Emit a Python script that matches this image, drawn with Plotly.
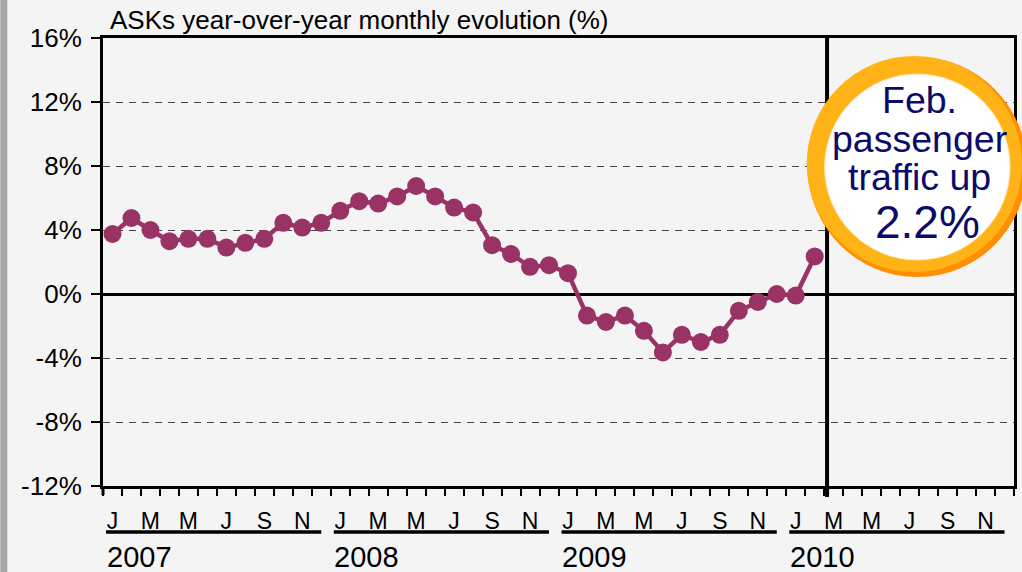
import plotly.graph_objects as go

# ---- data ----
month_letters = ["J", "F", "M", "A", "M", "J", "J", "A", "S", "O", "N", "D"]
years = ["2007", "2008", "2009", "2010"]
ask_yoy = [3.75, 4.75, 4.0, 3.3, 3.45, 3.45, 2.9, 3.2, 3.45, 4.45, 4.15, 4.45,
           5.2, 5.8, 5.65, 6.1, 6.75, 6.1, 5.4, 5.1, 3.05, 2.5, 1.7, 1.8,
           1.3, -1.35, -1.75, -1.35, -2.3, -3.65, -2.55, -3.0, -2.55, -1.05, -0.5, 0.0,
           -0.1, 2.35]
y_ticks = [16, 12, 8, 4, 0, -4, -8, -12]
title_text = "ASKs year-over-year monthly evolution (%)"
callout_lines = ["Feb.", "passenger", "traffic up"]
callout_value = "2.2%"

n_months = 12 * len(years)
x_idx = list(range(len(ask_yoy)))
tick_pos = list(range(0, n_months, 2))
tick_txt = [month_letters[i % 12] for i in tick_pos]

FONT = "Liberation Sans, Arial, sans-serif"
BG = "#f4f4f4"
L, R, T, B = 103, 5, 38, 86
W, H = 1022, 572
PW, PH = W - L - R, H - T - B


def px_x(p):
    return (p - L) / PW


def px_y(p):
    return (H - B - p) / PH


fig = go.Figure()
fig.add_trace(go.Scatter(
    x=x_idx, y=ask_yoy, mode="lines+markers",
    line=dict(color="#993366", width=4.5),
    marker=dict(color="#993366", size=18),
    showlegend=False, cliponaxis=False,
))

shapes = []
annotations = []

# left slide border
shapes.append(dict(type="rect", xref="paper", yref="paper",
                   x0=px_x(0), x1=px_x(7), y0=px_y(H), y1=px_y(0),
                   fillcolor="#a8a8a8", line_width=0, layer="below"))

# y-axis line extension below the plot
shapes.append(dict(type="line", xref="paper", yref="paper",
                   x0=0, x1=0, y0=px_y(495), y1=0,
                   line=dict(color="black", width=3)))

# vertical separator between Feb and Mar 2010
shapes.append(dict(type="line", xref="x", yref="paper",
                   x0=len(ask_yoy) - 0.35, x1=len(ask_yoy) - 0.35,
                   y0=px_y(497), y1=1, line=dict(color="black", width=4)))

# year labels and underlines
for i, yr in enumerate(years):
    start = 12 * i
    shapes.append(dict(type="line", xref="x", yref="paper",
                       x0=start - 0.34, x1=start + 11.0,
                       y0=px_y(532), y1=px_y(532),
                       line=dict(color="black", width=3.5)))
    annotations.append(dict(text=yr, xref="x", yref="paper",
                            x=start - 0.42, y=px_y(557), xanchor="left", yanchor="middle",
                            showarrow=False, font=dict(family=FONT, size=29, color="black")))

# title
annotations.append(dict(text=title_text, xref="paper", yref="paper",
                        x=px_x(108), y=px_y(20), xanchor="left", yanchor="middle",
                        showarrow=False, font=dict(family=FONT, size=26, color="black")))

# callout circle
cx, cy, r_out, r_in = 920, 167, 110, 93
shapes.append(dict(type="circle", xref="paper", yref="paper",
                   x0=px_x(cx - r_out), x1=px_x(cx + r_out),
                   y0=px_y(cy + r_out), y1=px_y(cy - r_out),
                   fillcolor="#ff8f00", line_width=0))
shapes.append(dict(type="circle", xref="paper", yref="paper",
                   x0=px_x(cx - r_out - 1), x1=px_x(cx + r_out - 5),
                   y0=px_y(cy + r_out - 5), y1=px_y(cy - r_out - 1),
                   fillcolor="#ffb316", line_width=0))
shapes.append(dict(type="circle", xref="paper", yref="paper",
                   x0=px_x(cx - r_in), x1=px_x(cx + r_in),
                   y0=px_y(cy + r_in), y1=px_y(cy - r_in),
                   fillcolor="white", line=dict(color="#ffe6b0", width=1)))

line_centers = [100, 139, 177]
for txt, yc in zip(callout_lines, line_centers):
    annotations.append(dict(text=txt, xref="paper", yref="paper",
                            x=px_x(922), y=px_y(yc), xanchor="center", yanchor="middle",
                            showarrow=False, font=dict(family=FONT, size=37.5, color="#0b0b6b")))
annotations.append(dict(text=callout_value, xref="paper", yref="paper",
                        x=px_x(930), y=px_y(222), xanchor="center", yanchor="middle",
                        showarrow=False, font=dict(family=FONT, size=46, color="#0b0b6b")))

fig.update_layout(
    width=W, height=H,
    margin=dict(l=L, r=R, t=T, b=B),
    paper_bgcolor=BG, plot_bgcolor=BG,
    shapes=shapes, annotations=annotations,
    font=dict(family=FONT, color="black"),
    xaxis=dict(
        range=[-0.5, n_months - 0.5],
        tickmode="array", tickvals=tick_pos, ticktext=tick_txt,
        ticks="", showgrid=False, zeroline=False,
        showline=True, linecolor="black", linewidth=3, mirror=True,
        tickfont=dict(family=FONT, size=23, color="black"),
        ticklabelstandoff=12,
        minor=dict(tickmode="linear", tick0=-0.5, dtick=1, ticks="outside",
                   ticklen=7, tickwidth=2, tickcolor="black", showgrid=False),
    ),
    yaxis=dict(
        range=[-12, 16], tickmode="array", tickvals=y_ticks,
        ticktext=[f"{v}%" for v in y_ticks],
        ticks="outside", ticklen=9, tickwidth=2, tickcolor="black",
        showgrid=True, gridcolor="#444444", gridwidth=1, griddash="7px,6px",
        zeroline=True, zerolinecolor="black", zerolinewidth=3,
        showline=True, linecolor="black", linewidth=3, mirror=True,
        tickfont=dict(family=FONT, size=26, color="black"),
        ticklabelstandoff=4,
    ),
)

fig.write_html(
    "out.html",
    config={"displayModeBar": False},
    post_script="document.body.style.margin='0';document.body.style.overflow='hidden';",
)
